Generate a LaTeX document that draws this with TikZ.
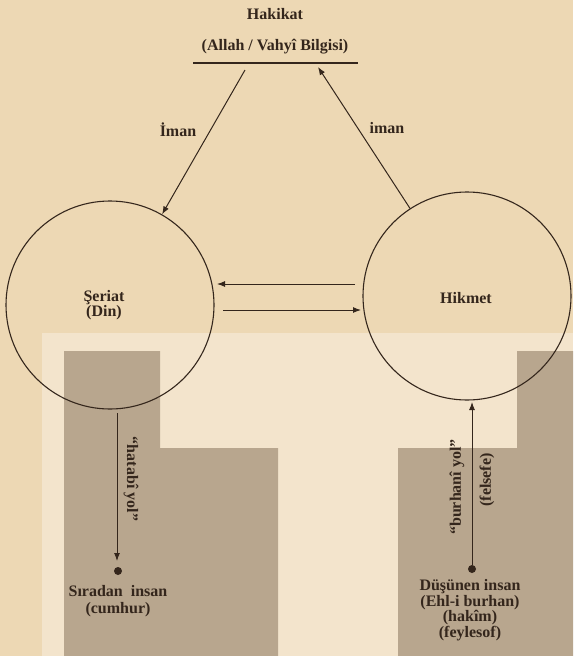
\documentclass[tikz,border=0pt]{standalone}
\usepackage{fontspec}
\setmainfont{Liberation Serif}
\usetikzlibrary{arrows.meta}
\definecolor{paper}{RGB}{237,216,180}
\definecolor{panel}{RGB}{243,228,204}
\definecolor{darkpanel}{RGB}{184,166,142}
\definecolor{ink}{RGB}{52,38,28}
\tikzset{
  txt/.style={font=\bfseries\fontsize{16}{17.5}\selectfont, text=ink, inner sep=0pt, align=center},
  ring/.style={circle, draw=ink, line width=1.1pt, minimum size=208pt, inner sep=0pt},
  con/.style={draw=ink, line width=1pt, -{Latex[length=8pt,width=6pt]}},
  plain/.style={draw=ink, line width=1pt},
  dotnode/.style={circle, fill=ink, minimum size=8pt, inner sep=0pt}
}
\begin{document}
\begin{tikzpicture}[x=1pt,y=-1pt]
  % background
  \fill[paper] (0,0) rectangle (573,656);
  \useasboundingbox (0,0) rectangle (573,656);
  \fill[panel] (42,333) rectangle (573,656);
  \fill[darkpanel] (64,351) -- (160,351) -- (160,448) -- (278,448) -- (278,656) -- (64,656) -- cycle;
  \fill[darkpanel] (517,351) -- (573,351) -- (573,656) -- (398,656) -- (398,448) -- (517,448) -- cycle;

  % top
  \node[txt] (hakikat) at (275,14) {Hakikat};
  \node[txt] (allah) at (275,47) {(Allah / Vahyî Bilgisi)};
  \coordinate (lineL) at (193,63);
  \coordinate (lineR) at (358,63);
  \draw[plain, line width=1.4pt] (lineL) -- (lineR);

  % circles
  \node[ring] (seriat) at (110,305) {};
  \node[ring] (hikmet) at (467,296) {};
  \node[txt] (seriatT) at (104,305) {Şeriat\\[-2pt](Din)};
  \node[txt] (hikmetT) at (466,298) {Hikmet};

  % diagonal arrows
  \coordinate (a1) at (245,70);
  \coordinate (a2) at (318,67);
  \draw[con] (a1) -- (seriat);
  \draw[con] (hikmet) -- (a2);
  \node[txt] (iman1) at (178,130) {İman};
  \node[txt] (iman2) at (387,128) {iman};

  % horizontal arrows
  \coordinate (h1s) at (355,284);
  \coordinate (h1e) at (217,284);
  \coordinate (h2s) at (223,310);
  \coordinate (h2e) at (361,310);
  \draw[con] (h1s) -- (h1e);
  \draw[con] (h2s) -- (h2e);

  % left bottom
  \coordinate (l1) at (117,413);
  \node[dotnode] (dot1) at (118,571) {};
  \coordinate (l2) at (117,561);
  \draw[con] (l1) -- (l2);
  \node[txt, rotate=-90] (hatabi) at (131,479) {``hatabî yol''};
  \node[txt] (siradan) at (118,601) {Sıradan\ \ insan\\[-1pt](cumhur)};

  % right bottom
  \node[dotnode] (dot2) at (472,569) {};
  \coordinate (r2) at (472,402);
  \draw[con] (dot2) -- (r2);
  \node[txt, rotate=90] (burhani) at (457,487) {``burhanî yol''};
  \node[txt, rotate=90] (felsefe) at (487,480) {(felsefe)};
  \node[txt] (dusunen) at (470,610) {Düşünen insan\\[-2pt](Ehl-i burhan)\\[-2pt](hakîm)\\[-2pt](feylesof)};
\end{tikzpicture}
\end{document}
